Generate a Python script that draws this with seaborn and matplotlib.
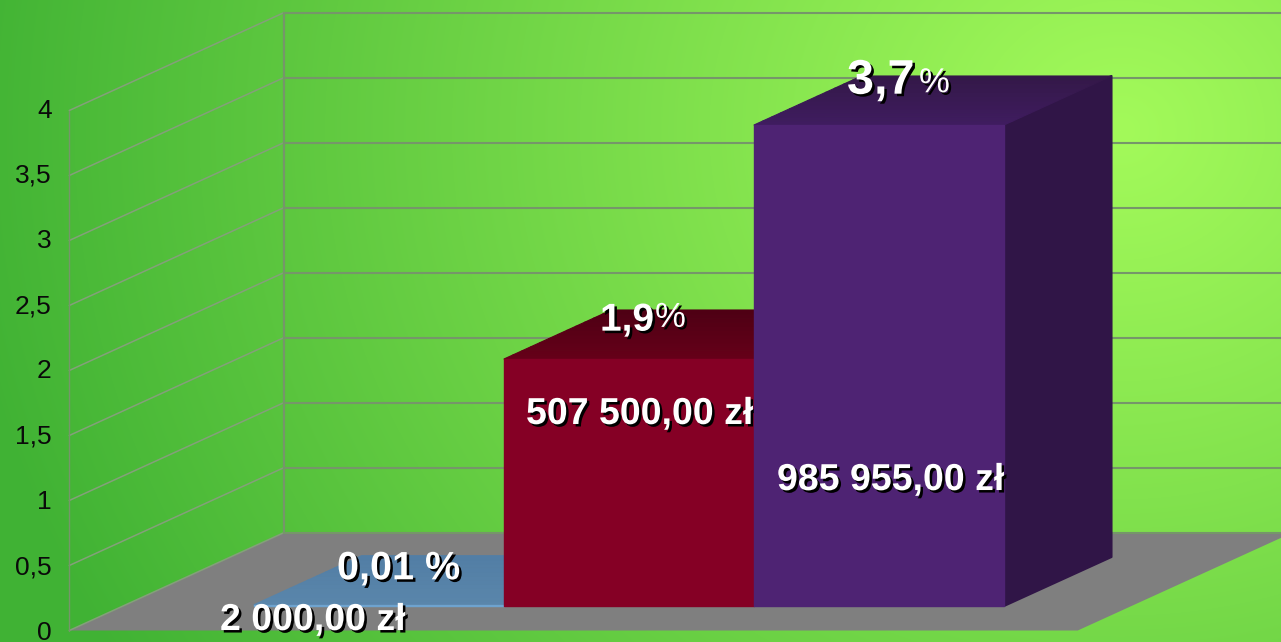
import numpy as np
import matplotlib.pyplot as plt
import matplotlib.patheffects as pe
from matplotlib.colors import to_rgb
from matplotlib.patches import Polygon
from matplotlib.ticker import FuncFormatter
import seaborn as sns

W, H = 1281, 642

amounts = ["2 000,00 zł", "507 500,00 zł", "985 955,00 zł"]
percents = [0.01, 1.9, 3.7]
front_colors = ["#6ea3cf", "#850025", "#4e2373"]
top_front_colors = ["#5a86ab", "#660019", "#401c60"]
top_back_colors = ["#527ea5", "#4e0014", "#331848"]
side_colors = ["#466b8c", "#4a0014", "#301547"]
y_ticks = [0, 0.5, 1, 1.5, 2, 2.5, 3, 3.5, 4]

sns.set_theme(style="white")
plt.rcParams["font.family"] = ["Liberation Sans", "DejaVu Sans"]

# data units -> one unit of bar depth
DX, DY = 107.5 / 250, 49 / 130
LEFT, RIGHT = -1.024, 3.01
D_FRONT, D_BACK = -0.5, 1.5
GRID = "#76966a"


def project(x, y, d):
    return x + d * DX, y + d * DY


def shadow(dx=1.8, dy=-1.8):
    return [pe.withSimplePatchShadow(offset=(dx, dy), shadow_rgbFace="black", alpha=1)]


fig = plt.figure(figsize=(W / 100, H / 100), dpi=100)

# background gradient
bg = fig.add_axes([0, 0, 1, 1], zorder=0)
yy, xx = np.mgrid[0:H, 0:W]
t = np.clip(np.hypot((xx - 1120) / 1170, (yy - 130) / 1050), 0, 1)[..., None]
inner = np.array([163, 250, 90]) / 255
outer = np.array([64, 178, 52]) / 255
bg.imshow(inner + (outer - inner) * t ** 1.05, aspect="auto")
bg.axis("off")

# main axes, bar front plane: 250 px per category, 130 px per unit
ax = fig.add_axes([0, 0, 1, 1], zorder=1)
sns.barplot(
    x=amounts, y=percents, hue=amounts, palette=front_colors, width=1,
    saturation=1, dodge=False, legend=False, ax=ax,
)
ax.set_xlim((0 - 379) / 250, (W - 379) / 250)
ax.set_ylim((606 - H) / 130, 606 / 130)
ax.axis("off")

# floor
floor = [
    project(LEFT, 0, D_FRONT), project(RIGHT, 0, D_FRONT),
    project(RIGHT, 0, D_BACK), project(LEFT, 0, D_BACK),
]
ax.add_patch(Polygon(floor, fc="#7f7f7f", ec="none", zorder=1))

# walls
for v in y_ticks:
    ax.plot(*zip(project(LEFT, v, D_BACK), project(6, v, D_BACK)),
            color=GRID, lw=1.5, zorder=2)
    ax.plot(*zip(project(LEFT, v, D_FRONT), project(LEFT, v, D_BACK)),
            color="#84a07a", lw=1.1, zorder=2)
for d, lw in ((D_FRONT, 1.0), (D_BACK, 1.6)):
    ax.plot(*zip(project(LEFT, 0, d), project(LEFT, 4, d)), color=GRID, lw=lw, zorder=2)

# bars with their depth faces, top face shaded in bands from front to back
for i, (bar, val) in enumerate(zip(ax.patches, percents)):
    x0, x1 = bar.get_x(), bar.get_x() + bar.get_width()
    z = 3 + i * 2
    bar.set(zorder=z + 1, edgecolor=front_colors[i], linewidth=1, joinstyle="round")
    side = [project(x1, 0, 0), project(x1, val, 0), project(x1, val, 1), project(x1, 0, 1)]
    ax.add_patch(Polygon(side, fc=side_colors[i], ec=side_colors[i], lw=1.5, joinstyle="round", zorder=z))
    c0, c1 = np.array(to_rgb(top_front_colors[i])), np.array(to_rgb(top_back_colors[i]))
    edges = np.linspace(0, 1, 13)
    for a, b in zip(edges[:-1], edges[1:]):
        band = [project(x0, val, a), project(x1, val, a), project(x1, val, b), project(x0, val, b)]
        c = c0 + (c1 - c0) * (a + b) / 2
        ax.add_patch(Polygon(band, fc=c, ec=c, lw=0.8, joinstyle="round", zorder=z))

# labels
white = dict(color="white", fontweight="bold", va="center", ha="left", path_effects=shadow())
ax.text(-0.636, -0.108, amounts[0], fontsize=27, zorder=20, **white)
ax.text(0.588, 1.477, amounts[1], fontsize=27, zorder=6, **white)
ax.text(1.592, 0.969, amounts[2], fontsize=27, zorder=20, **white)
ax.text(-0.168, 0.29, "0,01 %", fontsize=28.5, zorder=20, **white)
ax.text(0.884, 2.195, "1,9", fontsize=28, zorder=20, **white)
ax.text(1.104, 2.22, "%", fontsize=25, zorder=20, **{**white, "fontweight": "normal"})
ax.text(1.872, 4.037, "3,7", fontsize=35, zorder=20, **white)
ax.text(2.16, 4.025, "%", fontsize=25, zorder=20, **{**white, "fontweight": "normal"})

# value axis, sits on the front edge of the left wall
tick_ax = fig.add_axes([69 / W, 1 - 630 / H, 1 / W, (630 - 108) / H], zorder=2)
tick_ax.set_ylim(0, 4)
tick_ax.set_xticks([])
tick_ax.set_yticks(y_ticks)
tick_ax.yaxis.set_major_formatter(FuncFormatter(lambda v, p: f"{v:g}".replace(".", ",")))
tick_ax.tick_params(axis="y", length=0, pad=12.5, labelsize=19, labelcolor="#0a0a0a")
tick_ax.patch.set_alpha(0)
for s in tick_ax.spines.values():
    s.set_visible(False)

fig.savefig("out.png", dpi=100)
